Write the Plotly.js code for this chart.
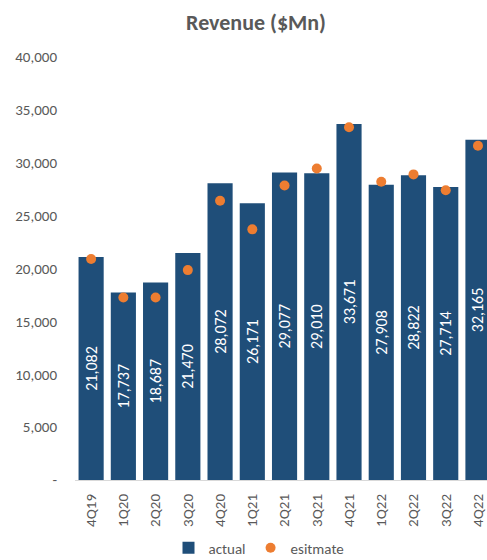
<!DOCTYPE html>
<html>
<head>
<meta charset="utf-8">
<script src="https://cdn.plot.ly/plotly-3.0.1.min.js"></script>
<style>html,body{margin:0;padding:0;background:#fff;}#chart{width:487px;height:560px;}</style>
</head>
<body>
<div id="chart"></div>
<script>
const quarters = ["4Q19","1Q20","2Q20","3Q20","4Q20","1Q21","2Q21","3Q21","4Q21","1Q22","2Q22","3Q22","4Q22"];
const actual = [21082,17737,18687,21470,28072,26171,29077,29010,33671,27908,28822,27714,32165];
const estimate = [20900,17250,17250,19850,26400,23700,27850,29450,33350,28200,28900,27400,31600];
const yTickVals = [0,5000,10000,15000,20000,25000,30000,35000,40000];
const yTickText = ["-","5,000","10,000","15,000","20,000","25,000","30,000","35,000","40,000"];

const FONT = "Carlito, Lato, 'Liberation Sans', sans-serif";
const GRAY = "#595959";

const traces = [
  {
    type: "bar",
    name: "actual",
    x: quarters,
    y: actual,
    marker: {color: "#1F4E79"},
    texttemplate: "%{y:,.0f}",
    textposition: "inside",
    insidetextanchor: "middle",
    textangle: -90,
    textfont: {color: "#ffffff", size: 16, family: FONT},
    hoverinfo: "x+y"
  },
  {
    type: "scatter",
    mode: "markers",
    name: "esitmate",
    x: quarters,
    y: estimate,
    marker: {color: "#ED7D31", size: 10},
    cliponaxis: false
  }
];

const layout = {
  width: 487,
  height: 560,
  margin: {l: 75, r: 0, t: 57, b: 80},
  paper_bgcolor: "#ffffff",
  plot_bgcolor: "#ffffff",
  font: {family: FONT, color: GRAY, size: 15},
  bargap: 0.22,
  showlegend: true,
  title: {
    text: "<b>Revenue ($Mn)</b>",
    font: {size: 22, color: GRAY, family: FONT},
    xref: "container", x: 256/487, xanchor: "center",
    yref: "container", y: 1 - 22/560, yanchor: "middle"
  },
  xaxis: {
    type: "category",
    range: [-0.5, 12.28],
    tickangle: -90,
    showgrid: false,
    showline: true,
    linecolor: "#D9D9D9",
    linewidth: 1,
    ticks: "",
    ticklabelstandoff: 7,
    tickfont: {size: 15, color: GRAY},
    fixedrange: true
  },
  yaxis: {
    range: [0, 40000],
    tickvals: yTickVals,
    ticktext: yTickText,
    showgrid: false,
    zeroline: false,
    showline: false,
    ticks: "",
    ticklabelstandoff: 17,
    tickfont: {size: 15, color: GRAY},
    fixedrange: true
  },
  legend: {
    orientation: "h",
    xref: "container", x: 259/487, xanchor: "center",
    yref: "container", y: 12/560, yanchor: "middle",
    font: {size: 15, color: GRAY},
    itemwidth: 30,
    traceorder: "normal"
  }
};

Plotly.newPlot("chart", traces, layout, {displayModeBar: false, staticPlot: true});
</script>
</body>
</html>
